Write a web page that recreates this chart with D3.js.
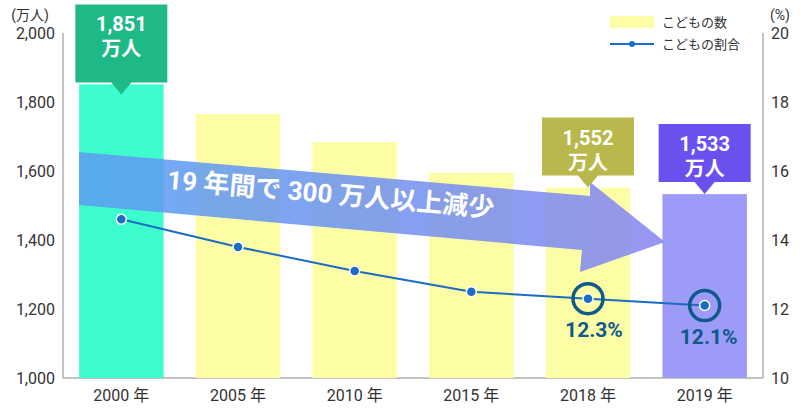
<!DOCTYPE html><html><head><meta charset="utf-8"><script src="https://cdn.jsdelivr.net/npm/d3@7"></script>
<style>body{margin:0;background:#fff}text{font-family:Roboto,"Noto Sans CJK JP",sans-serif}</style></head><body>
<svg id="c" width="801" height="410"></svg>
<script>
const years=["2000 年","2005 年","2010 年","2015 年","2018 年","2019 年"];
const children=[1851,1765,1684,1595,1552,1533];
const ratio=[14.6,13.8,13.1,12.5,12.3,12.1];
const leftTicks=[1000,1200,1400,1600,1800,2000];
const rightTicks=[10,12,14,16,18,20];
const barColors=["#3dfdcf","#fdfda6","#fdfda6","#fdfda6","#fdfda6","#9c9cf8"];
const svg=d3.select("#c");
const x=d3.scaleBand().domain(years).range([63,763]).paddingInner(0.276).paddingOuter(0.138);
const y=d3.scaleLinear().domain([1000,2000]).range([378,33]);
const y2=d3.scaleLinear().domain([10,20]).range([378,33]);
svg.append("line").attr("x1",63).attr("x2",63).attr("y1",33).attr("y2",378).attr("stroke","#888");
svg.append("line").attr("x1",763).attr("x2",763).attr("y1",33).attr("y2",378).attr("stroke","#888");
svg.append("line").attr("x1",63).attr("x2",763).attr("y1",378).attr("y2",378).attr("stroke","#888");
svg.selectAll(".lt").data(leftTicks).join("text").attr("x",55).attr("y",d=>y(d)+6).attr("text-anchor","end").attr("font-size",16).attr("fill","#333").text(d3.format(","));
svg.selectAll(".rt").data(rightTicks).join("text").attr("x",780).attr("y",d=>y2(d)+6).attr("text-anchor","middle").attr("font-size",16).attr("fill","#333").text(d=>d);
svg.append("text").attr("x",30).attr("y",20).attr("text-anchor","middle").attr("font-size",14).attr("fill","#333").text("(万人)");
svg.append("text").attr("x",780).attr("y",20).attr("text-anchor","middle").attr("font-size",14).attr("fill","#333").text("(%)");
svg.selectAll(".bar").data(children).join("rect").attr("x",(d,i)=>x(years[i])).attr("width",x.bandwidth()).attr("y",d=>y(d)).attr("height",d=>378-y(d)).attr("fill",(d,i)=>barColors[i]);
svg.selectAll(".xl").data(years).join("text").attr("x",d=>x(d)+x.bandwidth()/2).attr("y",401).attr("text-anchor","middle").attr("font-size",16).attr("fill","#333").text(d=>d);
const g=svg.append("defs").append("linearGradient").attr("id","ag");
g.append("stop").attr("offset","0").attr("stop-color","#5aa0f0");
g.append("stop").attr("offset","1").attr("stop-color","#8a88f0");
svg.append("path").attr("d","M79,152 L590,196 L590,182 L665,242 L580,272 L582,250 L79,205 Z").attr("fill","url(#ag)").attr("opacity",0.88);
svg.append("text").attr("x",330).attr("y",203).attr("text-anchor","middle").attr("font-size",26).attr("font-weight","bold").attr("fill","#fff").attr("transform","rotate(5,330,203)").text("19 年間で 300 万人以上減少");
const cx=(d,i)=>x(years[i])+x.bandwidth()/2;
svg.append("path").attr("d",d3.line().x(cx).y(d=>y2(d))(ratio)).attr("fill","none").attr("stroke","#1a6cc4").attr("stroke-width",2);
svg.selectAll(".pt").data(ratio).join("circle").attr("cx",cx).attr("cy",d=>y2(d)).attr("r",5).attr("fill","#1a6cc4").attr("stroke","#fff").attr("stroke-width",1.5);
[4,5].forEach(i=>{
 svg.append("circle").attr("cx",cx(0,i)).attr("cy",y2(ratio[i])).attr("r",15).attr("fill","none").attr("stroke","#0e5a8a").attr("stroke-width",3.5);
 svg.append("text").attr("x",cx(0,i)+(i==4?6:4)).attr("y",y2(ratio[i])+38).attr("text-anchor","middle").attr("font-size",21).attr("font-weight","bold").attr("fill","#0e5a8a").text(ratio[i].toFixed(1)+"%");
});
const calls=[[0,"#1fb887",2],[4,"#b8b84c",12],[5,"#6b50f0",12]];
calls.forEach(([i,c,gap])=>{
 const mx=cx(0,i), top=y(children[i]);
 const h=i==0?66:58,w=92,b=top-gap;
 svg.append("path").attr("d",`M${mx-w/2},${b-h-(i==0?12:0)} h${w} v${h+(i==0?12:0)} h-${w/2-10} l-${10},12 l-${10},-12 h-${w/2-10} Z`).attr("fill",c);
 const t0=b-h-(i==0?12:0);
 svg.append("text").attr("x",mx).attr("y",t0+27).attr("text-anchor","middle").attr("font-size",20).attr("font-weight","bold").attr("fill","#fff").text(d3.format(",")(children[i]));
 svg.append("text").attr("x",mx).attr("y",t0+52).attr("text-anchor","middle").attr("font-size",20).attr("font-weight","bold").attr("fill","#fff").text("万人");
});
svg.append("rect").attr("x",610).attr("y",16).attr("width",44).attr("height",12).attr("fill","#fdfda6");
svg.append("text").attr("x",662).attr("y",27).attr("font-size",13).attr("fill","#333").text("こどもの数");
svg.append("line").attr("x1",610).attr("x2",654).attr("y1",44).attr("y2",44).attr("stroke","#1a6cc4").attr("stroke-width",2);
svg.append("circle").attr("cx",632).attr("cy",44).attr("r",3).attr("fill","#1a6cc4");
svg.append("text").attr("x",662).attr("y",49).attr("font-size",13).attr("fill","#333").text("こどもの割合");
</script></body></html>
